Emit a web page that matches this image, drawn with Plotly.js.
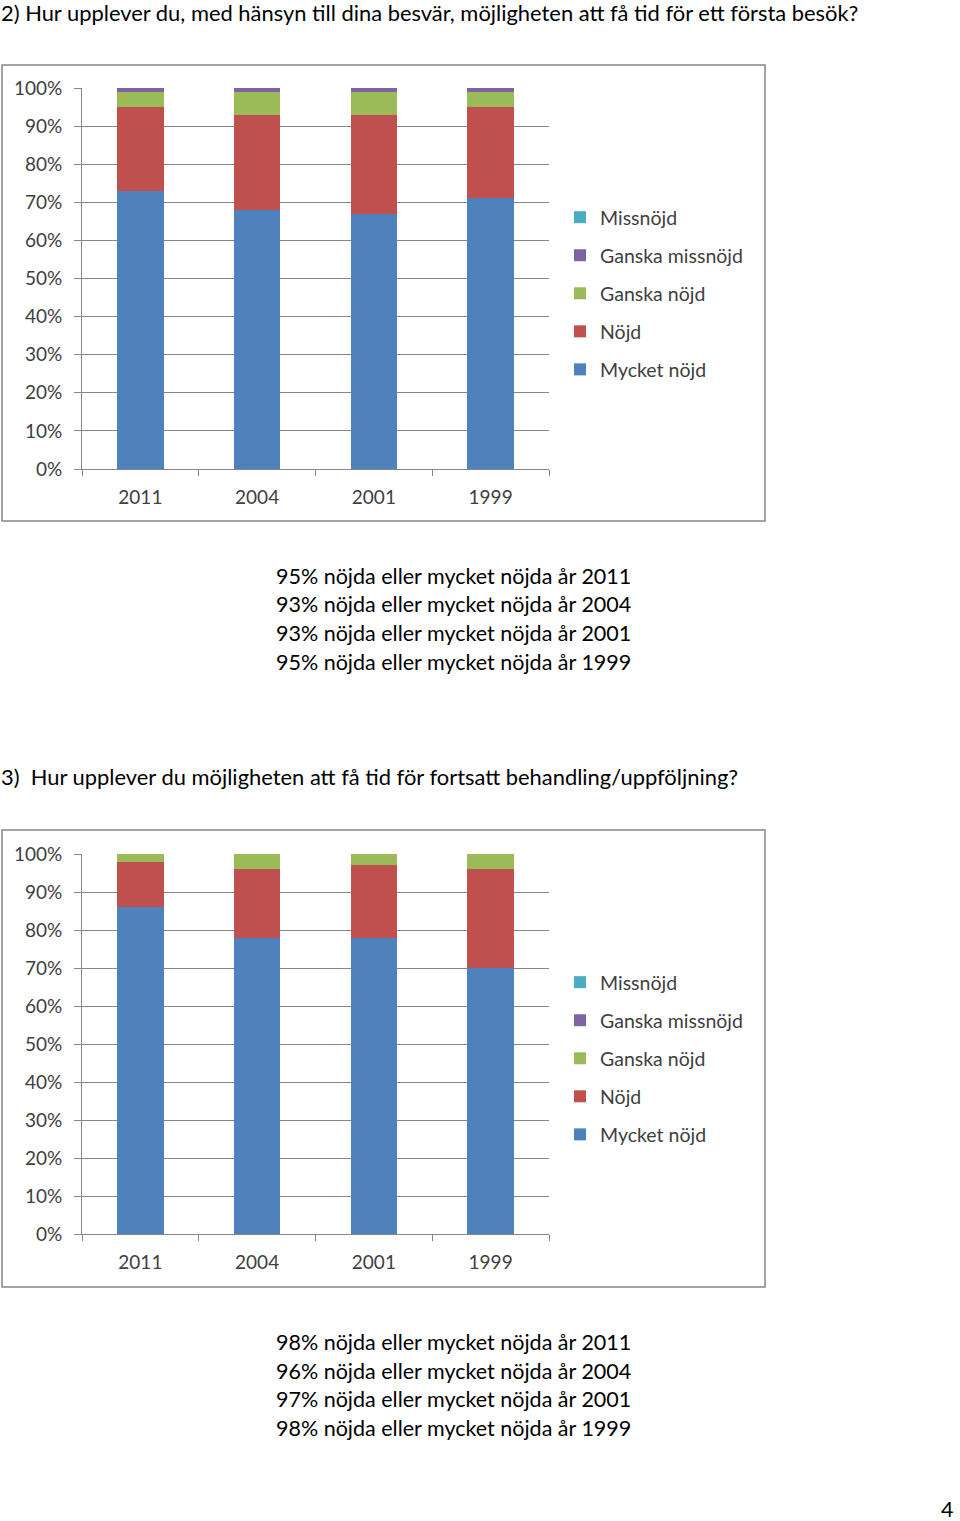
<!DOCTYPE html>
<html>
<head>
<meta charset="utf-8">
<script src="https://cdn.plot.ly/plotly-3.0.1.min.js"></script>
<style>html,body{margin:0;padding:0;background:#fff;}#chart{width:960px;height:1521px;}</style>
</head>
<body>
<div id="chart"></div>
<script>
// ---- Data ----
const years = ["2011", "2004", "2001", "1999"];
const seriesNames = ["Mycket nöjd", "Nöjd", "Ganska nöjd", "Ganska missnöjd", "Missnöjd"];
const seriesColors = ["#4F81BD", "#C0504D", "#9BBB59", "#8064A2", "#4BACC6"];
// Chart 1 (question 2)
const q2MycketNojd = [73, 68, 67, 71];
const q2Nojd = [22, 25, 26, 24];
const q2GanskaNojd = [4, 6, 6, 4];
const q2GanskaMissnojd = [1, 1, 1, 1];
const q2Missnojd = [0, 0, 0, 0];
// Chart 2 (question 3)
const q3MycketNojd = [86, 78, 78, 70];
const q3Nojd = [12, 18, 19, 26];
const q3GanskaNojd = [2, 4, 3, 4];
const q3GanskaMissnojd = [0, 0, 0, 0];
const q3Missnojd = [0, 0, 0, 0];
const yTickVals = [0, 10, 20, 30, 40, 50, 60, 70, 80, 90, 100];
const yTickText = ["0%", "10%", "20%", "30%", "40%", "50%", "60%", "70%", "80%", "90%", "100%"];

const title2 = "2) Hur upplever du, med hänsyn till dina besvär, möjligheten att få tid för ett första besök?";
const title3 = "3)  Hur upplever du möjligheten att få tid för fortsatt behandling/uppföljning?";
const summary2 = ["95% nöjda eller mycket nöjda år 2011", "93% nöjda eller mycket nöjda år 2004", "93% nöjda eller mycket nöjda år 2001", "95% nöjda eller mycket nöjda år 1999"];
const summary3 = ["98% nöjda eller mycket nöjda år 2011", "96% nöjda eller mycket nöjda år 2004", "97% nöjda eller mycket nöjda år 2001", "98% nöjda eller mycket nöjda år 1999"];
const pageNumber = "4";

// ---- Layout helpers ----
const W = 960, H = 1521;
const px = x => x / W;
const py = y => 1 - y / H;
const FONT = "Lato, 'Open Sans', sans-serif";

const q2 = [q2MycketNojd, q2Nojd, q2GanskaNojd, q2GanskaMissnojd, q2Missnojd];
const q3 = [q3MycketNojd, q3Nojd, q3GanskaNojd, q3GanskaMissnojd, q3Missnojd];

const traces = [];
q2.forEach((vals, i) => traces.push({
  type: "bar", x: years, y: vals, name: seriesNames[i], xaxis: "x", yaxis: "y",
  marker: {color: seriesColors[i], line: {width: 0}}, legend: "legend", legendgroup: "a" + i,
  legendrank: 10 - i, hoverinfo: "none"
}));
q3.forEach((vals, i) => traces.push({
  type: "bar", x: years, y: vals, name: seriesNames[i], xaxis: "x2", yaxis: "y2",
  marker: {color: seriesColors[i], line: {width: 0}}, legend: "legend2", legendgroup: "b" + i,
  legendrank: 10 - i, hoverinfo: "none"
}));

const tickFont = {family: FONT, size: 19, color: "#404040"};
function xAxis(anchor) {
  return {
    domain: [px(82), px(549)], anchor: anchor, type: "category",
    showline: true, linecolor: "#868686", linewidth: 1,
    ticks: "outside", tickson: "boundaries", ticklen: 6, tickcolor: "#868686",
    tickfont: tickFont, ticklabelstandoff: 11, showgrid: false, fixedrange: true
  };
}
function yAxis(anchor, top, bottom) {
  return {
    domain: [py(bottom), py(top)], anchor: anchor, range: [0, 100],
    tickvals: yTickVals, ticktext: yTickText, tickfont: tickFont,
    showline: true, linecolor: "#868686", linewidth: 1,
    ticks: "outside", ticklen: 7, tickcolor: "#868686", ticklabelstandoff: 8,
    showgrid: true, gridcolor: "#868686", gridwidth: 1, zeroline: false, fixedrange: true
  };
}
function legendCfg(yTop) {
  return {
    x: px(560), y: py(yTop), xanchor: "left", yanchor: "top",
    traceorder: "grouped", tracegroupgap: 9.7,
    font: {family: FONT, size: 19.5, color: "#404040"},
    bgcolor: "rgba(0,0,0,0)", itemclick: false, itemdoubleclick: false
  };
}

const annotations = [];
function textAnn(text, xPix, yPix, anchor, size, color) {
  annotations.push({
    text: text, xref: "paper", yref: "paper", x: px(xPix), y: py(yPix),
    xanchor: anchor, yanchor: "middle", showarrow: false, borderpad: 0,
    font: {family: FONT, size: size, color: color || "#000"}
  });
}
textAnn(title2, 0, 12, "left", 21.9);
textAnn(title3, 0, 776, "left", 21.9);
summary2.forEach((t, i) => textAnn(t, 453, 576 + i * 28.5, "center", 21.5));
summary3.forEach((t, i) => textAnn(t, 453, 1342 + i * 28.5, "center", 21.5));
textAnn(pageNumber, 954, 1509, "right", 21.5);

const shapes = [
  {type: "rect", xref: "paper", yref: "paper", x0: px(2), x1: px(765), y0: py(65), y1: py(521), line: {color: "#868686", width: 1.5}},
  {type: "rect", xref: "paper", yref: "paper", x0: px(2), x1: px(765), y0: py(830), y1: py(1287), line: {color: "#868686", width: 1.5}}
];

const layout = {
  width: W, height: H, autosize: false,
  margin: {l: 0, r: 0, t: 0, b: 0, pad: 0},
  paper_bgcolor: "#fff", plot_bgcolor: "#fff",
  barmode: "stack", bargap: 0.6,
  xaxis: xAxis("y"), yaxis: yAxis("x", 88, 469),
  xaxis2: xAxis("y2"), yaxis2: yAxis("x2", 854, 1234),
  legend: legendCfg(198), legend2: legendCfg(963),
  annotations: annotations, shapes: shapes, showlegend: true
};

Plotly.newPlot("chart", traces, layout, {displayModeBar: false, staticPlot: true});
</script>
</body>
</html>
